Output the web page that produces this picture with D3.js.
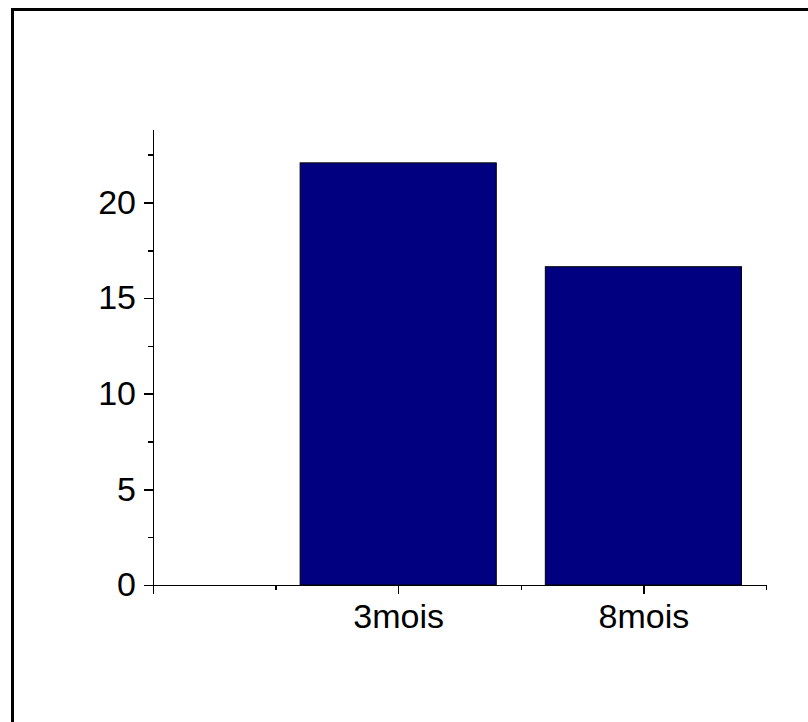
<!DOCTYPE html>
<html>
<head>
<meta charset="utf-8">
<script src="https://cdn.jsdelivr.net/npm/d3@7"></script>
<style>
  html, body { margin: 0; padding: 0; background: #fff; }
  svg { display: block; }
  .axis text { font-family: "Liberation Sans", Arial, sans-serif; font-size: 34px; fill: #000; }
  .axis path, .axis line { stroke: #000; stroke-width: 1.5px; shape-rendering: crispEdges; }
</style>
</head>
<body>
<svg id="chart" width="808" height="722"></svg>
<script>
// Chart data
const categories = ["3mois", "8mois"];
const values = [22.07, 16.64];
const yMajorTicks = [0, 5, 10, 15, 20];
const yMinorTicks = [2.5, 7.5, 12.5, 17.5, 22.5];
const xMajorTicks = [0, 1, 2];
const xMinorTicks = [0.5, 1.5, 2.5];

const svg = d3.select("#chart");

// outer frame
svg.append("rect")
  .attr("x", 12.5).attr("y", 9.5)
  .attr("width", 1000).attr("height", 1000)
  .attr("fill", "none").attr("stroke", "#000").attr("stroke-width", 3);

const x = d3.scaleLinear().domain([0, 2.5]).range([153, 766]);
const y = d3.scaleLinear().domain([0, 23.84]).range([585, 129]);
const barWidth = 0.8;

// bars (category i sits at x = i + 1)
svg.append("g").selectAll("rect")
  .data(values)
  .join("rect")
  .attr("x", (d, i) => x(i + 1 - barWidth / 2))
  .attr("width", (d, i) => x(i + 1 + barWidth / 2) - x(i + 1 - barWidth / 2))
  .attr("y", d => y(d))
  .attr("height", d => y(0) - y(d))
  .attr("fill", "#000080")
  .attr("stroke", "#000")
  .attr("stroke-width", 1);

// y axis
svg.append("g").attr("class", "axis")
  .attr("transform", `translate(${x(0)},0)`)
  .call(d3.axisLeft(y).tickValues(yMajorTicks).tickSize(9).tickSizeOuter(0).tickPadding(8)
    .tickFormat(d3.format("d")));
svg.append("g").attr("class", "axis")
  .attr("transform", `translate(${x(0)},0)`)
  .call(d3.axisLeft(y).tickValues(yMinorTicks).tickSize(5).tickSizeOuter(0).tickFormat(""))
  .select(".domain").remove();

// x axis
const xLabel = d => (d >= 1 ? categories[d - 1] : "");
svg.append("g").attr("class", "axis")
  .attr("transform", `translate(0,${y(0)})`)
  .call(d3.axisBottom(x).tickValues(xMajorTicks).tickSize(9).tickSizeOuter(0).tickPadding(10)
    .tickFormat(xLabel));
svg.append("g").attr("class", "axis")
  .attr("transform", `translate(0,${y(0)})`)
  .call(d3.axisBottom(x).tickValues(xMinorTicks).tickSize(5).tickSizeOuter(0).tickFormat(""))
  .select(".domain").remove();
</script>
</body>
</html>
